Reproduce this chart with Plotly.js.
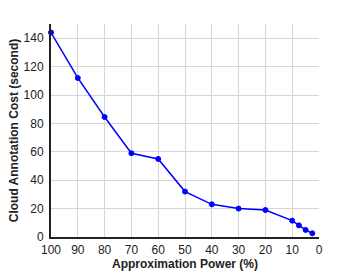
<!DOCTYPE html>
<html><head><meta charset="utf-8">
<script src="https://cdn.plot.ly/plotly-3.0.1.min.js"></script>
<style>body{margin:0;padding:0;background:#fff}#c{width:358px;height:273px}</style>
</head><body><div id="c"></div>
<script>
const approxPower = [100, 90, 80, 70, 60, 50, 40, 30, 20, 10, 7.5, 5, 2.5];
const annotationCost = [144, 112, 84.5, 59, 55, 32, 23, 20, 19, 11.5, 8.2, 5, 2.6];
const xTicks = [100, 90, 80, 70, 60, 50, 40, 30, 20, 10, 0];
const yTicks = [0, 20, 40, 60, 80, 100, 120, 140];

const trace = {
  x: approxPower, y: annotationCost, type: 'scatter', mode: 'lines+markers',
  line: {color: '#0000ff', width: 1.5},
  marker: {color: '#0000ff', size: 5, line: {color: '#0000ff', width: 1}},
  cliponaxis: false
};
const fam = '"Liberation Sans", Arial, Helvetica, sans-serif';
const layout = {
  width: 358, height: 273,
  margin: {l: 51, r: 39, t: 24, b: 36},
  paper_bgcolor: '#fff', plot_bgcolor: '#fff',
  showlegend: false,
  font: {family: fam, size: 12, color: '#222'},
  xaxis: {
    range: [100, 0], tickvals: xTicks, ticktext: xTicks.map(String),
    showgrid: true, gridcolor: '#d6d6d6', gridwidth: 1,
    zeroline: false, showline: true, linecolor: '#222', linewidth: 2,
    ticks: '', ticklabelstandoff: 1,
    tickfont: {family: fam, size: 12, color: '#222'},
    title: {text: 'Approximation Power (%)', standoff: 0,
      font: {family: fam, size: 12, color: '#222', weight: 'bold'}}
  },
  yaxis: {
    range: [0, 150], tickvals: yTicks, ticktext: yTicks.map(String),
    showgrid: true, gridcolor: '#d6d6d6', gridwidth: 1,
    zeroline: false, showline: true, linecolor: '#222', linewidth: 2,
    ticks: '', ticklabelstandoff: 3,
    tickfont: {family: fam, size: 12, color: '#222'},
    title: {text: 'Cloud Annotation Cost (second)', standoff: 2,
      font: {family: fam, size: 12, color: '#222', weight: 'bold'}}
  }
};
Plotly.newPlot('c', [trace], layout, {staticPlot: true, displayModeBar: false});
</script></body></html>
